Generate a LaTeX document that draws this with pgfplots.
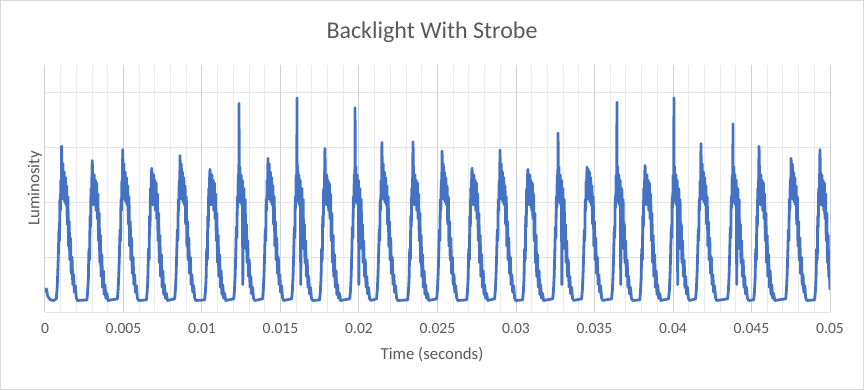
\documentclass[border=0pt]{standalone}
\usepackage{pgfplots}
\pgfplotsset{compat=1.18}
\usepackage{pgfplotstable}
\usepackage{fontspec}
\setmainfont{Carlito}
\definecolor{lineblue}{HTML}{4472C4}
\definecolor{txtgrey}{HTML}{595959}
\definecolor{gridmaj}{HTML}{D0D0D0}
\definecolor{gridmin}{HTML}{EBEBEB}
\definecolor{gridh}{HTML}{E3E3E3}

\pgfplotstableread{
t L
0.00 0.44
0.04 0.38
0.10 0.42
0.16 0.30
0.24 0.26
0.35 0.22
0.55 0.21
0.72 0.24
0.77 0.42
0.81 0.68
0.85 1.05
0.89 1.50
0.92 1.30
0.95 2.05
0.98 1.85
1.01 2.40
1.04 2.15
1.06 3.02
1.10 2.20
1.14 2.70
1.18 2.05
1.22 2.55
1.26 2.00
1.30 2.45
1.34 1.95
1.38 2.30
1.42 1.60
1.46 2.10
1.50 1.20
1.54 1.65
1.58 0.95
1.62 1.35
1.67 0.70
1.72 1.00
1.77 0.50
1.82 0.68
1.87 0.36
1.93 0.48
1.99 0.26
2.06 0.21
2.67 0.22
2.72 0.38
2.76 0.60
2.80 1.15
2.84 0.95
2.87 1.75
2.90 1.55
2.93 2.25
2.96 2.00
2.99 2.50
3.01 2.76
3.05 2.30
3.09 1.95
3.13 2.50
3.17 2.00
3.21 2.40
3.25 1.85
3.29 2.35
3.33 1.70
3.37 2.15
3.41 1.30
3.45 1.80
3.49 0.90
3.53 1.40
3.57 0.65
3.62 1.05
3.67 0.45
3.72 0.75
3.77 0.32
3.82 0.50
3.88 0.25
3.94 0.34
4.01 0.21
4.61 0.24
4.66 0.42
4.70 0.68
4.74 1.05
4.78 1.50
4.81 1.30
4.84 2.05
4.87 1.85
4.90 2.40
4.93 2.15
4.95 2.96
4.99 2.20
5.03 2.70
5.07 2.05
5.11 2.55
5.15 2.00
5.19 2.45
5.23 1.95
5.27 2.30
5.31 1.60
5.35 2.10
5.39 1.20
5.43 1.65
5.47 0.95
5.51 1.35
5.56 0.70
5.61 1.00
5.66 0.50
5.71 0.68
5.76 0.36
5.82 0.48
5.88 0.26
5.95 0.21
6.46 0.22
6.51 0.38
6.55 0.60
6.59 1.15
6.63 0.95
6.66 1.75
6.69 1.55
6.72 2.25
6.75 2.00
6.78 2.50
6.80 2.62
6.84 2.30
6.88 1.95
6.92 2.50
6.96 2.00
7.00 2.40
7.04 1.85
7.08 2.35
7.12 1.70
7.16 2.15
7.20 1.30
7.24 1.80
7.28 0.90
7.32 1.40
7.36 0.65
7.41 1.05
7.46 0.45
7.51 0.75
7.56 0.32
7.61 0.50
7.67 0.25
7.73 0.34
7.80 0.21
8.26 0.24
8.31 0.42
8.35 0.68
8.39 1.05
8.43 1.50
8.46 1.30
8.49 2.05
8.52 1.85
8.55 2.40
8.58 2.15
8.60 2.85
8.64 2.20
8.68 2.70
8.72 2.05
8.76 2.55
8.80 2.00
8.84 2.45
8.88 1.95
8.92 2.30
8.96 1.60
9.00 2.10
9.04 1.20
9.08 1.65
9.12 0.95
9.16 1.35
9.21 0.70
9.26 1.00
9.31 0.50
9.36 0.68
9.41 0.36
9.47 0.48
9.53 0.26
9.60 0.21
10.17 0.22
10.22 0.38
10.26 0.60
10.30 1.15
10.34 0.95
10.37 1.75
10.40 1.55
10.43 2.25
10.46 2.00
10.49 2.50
10.51 2.60
10.55 2.30
10.59 1.95
10.63 2.50
10.67 2.00
10.71 2.40
10.75 1.85
10.79 2.35
10.83 1.70
10.87 2.15
10.91 1.30
10.95 1.80
10.99 0.90
11.03 1.40
11.07 0.65
11.12 1.05
11.17 0.45
11.22 0.75
11.27 0.32
11.32 0.50
11.38 0.25
11.44 0.34
11.51 0.21
12.02 0.24
12.07 0.40
12.11 0.65
12.15 1.05
12.19 1.55
12.22 1.35
12.25 2.10
12.28 1.90
12.31 2.50
12.34 2.25
12.35 2.65
12.36 3.80
12.37 2.30
12.41 2.65
12.45 2.00
12.49 2.50
12.53 1.95
12.57 2.40
12.60 0.50
12.63 1.90
12.67 2.25
12.71 1.55
12.75 2.05
12.79 1.15
12.83 1.60
12.87 0.90
12.91 1.30
12.96 0.65
13.01 0.95
13.06 0.45
13.11 0.65
13.16 0.33
13.22 0.45
13.28 0.25
13.36 0.21
13.86 0.24
13.91 0.42
13.95 0.68
13.99 1.05
14.03 1.50
14.06 1.30
14.09 2.05
14.12 1.85
14.15 2.40
14.18 2.15
14.20 2.80
14.24 2.20
14.28 2.70
14.32 2.05
14.36 2.55
14.40 2.00
14.44 2.45
14.48 1.95
14.52 2.30
14.56 1.60
14.60 2.10
14.64 1.20
14.68 1.65
14.72 0.95
14.76 1.35
14.81 0.70
14.86 1.00
14.91 0.50
14.96 0.68
15.01 0.36
15.07 0.48
15.13 0.26
15.20 0.21
15.71 0.24
15.76 0.40
15.80 0.65
15.84 1.05
15.88 1.55
15.91 1.35
15.94 2.10
15.97 1.90
16.00 2.50
16.03 2.25
16.04 2.65
16.05 3.90
16.06 2.30
16.10 2.65
16.14 2.00
16.18 2.50
16.22 1.95
16.26 2.40
16.29 0.50
16.32 1.90
16.36 2.25
16.40 1.55
16.44 2.05
16.48 1.15
16.52 1.60
16.56 0.90
16.60 1.30
16.65 0.65
16.70 0.95
16.75 0.45
16.80 0.65
16.85 0.33
16.91 0.45
16.97 0.25
17.05 0.21
17.49 0.22
17.54 0.38
17.58 0.60
17.62 1.15
17.66 0.95
17.69 1.75
17.72 1.55
17.75 2.25
17.78 2.00
17.81 2.50
17.83 2.98
17.87 2.30
17.91 1.95
17.95 2.50
17.99 2.00
18.03 2.40
18.07 1.85
18.11 2.35
18.15 1.70
18.19 2.15
18.23 1.30
18.27 1.80
18.31 0.90
18.35 1.40
18.39 0.65
18.44 1.05
18.49 0.45
18.54 0.75
18.59 0.32
18.64 0.50
18.70 0.25
18.76 0.34
18.83 0.21
19.41 0.24
19.46 0.40
19.50 0.65
19.54 1.05
19.58 1.55
19.61 1.35
19.64 2.10
19.67 1.90
19.70 2.50
19.73 2.25
19.74 2.65
19.75 3.72
19.76 2.30
19.80 2.65
19.84 2.00
19.88 2.50
19.92 1.95
19.96 2.40
19.99 0.50
20.02 1.90
20.06 2.25
20.10 1.55
20.14 2.05
20.18 1.15
20.22 1.60
20.26 0.90
20.30 1.30
20.35 0.65
20.40 0.95
20.45 0.45
20.50 0.65
20.55 0.33
20.61 0.45
20.67 0.25
20.75 0.21
21.12 0.24
21.17 0.42
21.21 0.68
21.25 1.05
21.29 1.50
21.32 1.30
21.35 2.05
21.38 1.85
21.41 2.40
21.44 2.15
21.46 3.09
21.50 2.20
21.54 2.70
21.58 2.05
21.62 2.55
21.66 2.00
21.70 2.45
21.74 1.95
21.78 2.30
21.82 1.60
21.86 2.10
21.90 1.20
21.94 1.65
21.98 0.95
22.02 1.35
22.07 0.70
22.12 1.00
22.17 0.50
22.22 0.68
22.27 0.36
22.33 0.48
22.39 0.26
22.46 0.21
23.10 0.22
23.15 0.38
23.19 0.60
23.23 1.15
23.27 0.95
23.30 1.75
23.33 1.55
23.36 2.25
23.39 2.00
23.42 2.50
23.44 3.10
23.48 2.30
23.52 1.95
23.56 2.50
23.60 2.00
23.64 2.40
23.68 1.85
23.72 2.35
23.76 1.70
23.80 2.15
23.84 1.30
23.88 1.80
23.92 0.90
23.96 1.40
24.00 0.65
24.05 1.05
24.10 0.45
24.15 0.75
24.20 0.32
24.25 0.50
24.31 0.25
24.37 0.34
24.44 0.21
24.95 0.24
25.00 0.42
25.04 0.68
25.08 1.05
25.12 1.50
25.15 1.30
25.18 2.05
25.21 1.85
25.24 2.40
25.27 2.15
25.29 2.93
25.33 2.20
25.37 2.70
25.41 2.05
25.45 2.55
25.49 2.00
25.53 2.45
25.57 1.95
25.61 2.30
25.65 1.60
25.69 2.10
25.73 1.20
25.77 1.65
25.81 0.95
25.85 1.35
25.90 0.70
25.95 1.00
26.00 0.50
26.05 0.68
26.10 0.36
26.16 0.48
26.22 0.26
26.29 0.21
26.86 0.22
26.91 0.38
26.95 0.60
26.99 1.15
27.03 0.95
27.06 1.75
27.09 1.55
27.12 2.25
27.15 2.00
27.18 2.50
27.20 2.62
27.24 2.30
27.28 1.95
27.32 2.50
27.36 2.00
27.40 2.40
27.44 1.85
27.48 2.35
27.52 1.70
27.56 2.15
27.60 1.30
27.64 1.80
27.68 0.90
27.72 1.40
27.76 0.65
27.81 1.05
27.86 0.45
27.91 0.75
27.96 0.32
28.01 0.50
28.07 0.25
28.13 0.34
28.20 0.21
28.64 0.24
28.69 0.42
28.73 0.68
28.77 1.05
28.81 1.50
28.84 1.30
28.87 2.05
28.90 1.85
28.93 2.40
28.96 2.15
28.98 2.95
29.02 2.20
29.06 2.70
29.10 2.05
29.14 2.55
29.18 2.00
29.22 2.45
29.26 1.95
29.30 2.30
29.34 1.60
29.38 2.10
29.42 1.20
29.46 1.65
29.50 0.95
29.54 1.35
29.59 0.70
29.64 1.00
29.69 0.50
29.74 0.68
29.79 0.36
29.85 0.48
29.91 0.26
29.98 0.21
30.42 0.22
30.47 0.38
30.51 0.60
30.55 1.15
30.59 0.95
30.62 1.75
30.65 1.55
30.68 2.25
30.71 2.00
30.74 2.50
30.76 2.60
30.80 2.30
30.84 1.95
30.88 2.50
30.92 2.00
30.96 2.40
31.00 1.85
31.04 2.35
31.08 1.70
31.12 2.15
31.16 1.30
31.20 1.80
31.24 0.90
31.28 1.40
31.32 0.65
31.37 1.05
31.42 0.45
31.47 0.75
31.52 0.32
31.57 0.50
31.63 0.25
31.69 0.34
31.76 0.21
32.34 0.24
32.39 0.40
32.43 0.65
32.47 1.05
32.51 1.55
32.54 1.35
32.57 2.10
32.60 1.90
32.63 2.50
32.66 2.25
32.67 2.65
32.68 3.26
32.69 2.30
32.73 2.65
32.77 2.00
32.81 2.50
32.85 1.95
32.89 2.40
32.92 0.50
32.95 1.90
32.99 2.25
33.03 1.55
33.07 2.05
33.11 1.15
33.15 1.60
33.19 0.90
33.23 1.30
33.28 0.65
33.33 0.95
33.38 0.45
33.43 0.65
33.48 0.33
33.54 0.45
33.60 0.25
33.68 0.21
34.18 0.24
34.23 0.42
34.27 0.68
34.31 1.05
34.35 1.50
34.38 1.30
34.41 2.05
34.44 1.85
34.47 2.40
34.50 2.15
34.52 2.64
34.56 2.20
34.60 2.60
34.64 2.05
34.68 2.55
34.72 2.00
34.76 2.45
34.80 1.95
34.84 2.30
34.88 1.60
34.92 2.10
34.96 1.20
35.00 1.65
35.04 0.95
35.08 1.35
35.13 0.70
35.18 1.00
35.23 0.50
35.28 0.68
35.33 0.36
35.39 0.48
35.45 0.26
35.52 0.21
36.09 0.24
36.14 0.40
36.18 0.65
36.22 1.05
36.26 1.55
36.29 1.35
36.32 2.10
36.35 1.90
36.38 2.50
36.41 2.25
36.42 2.65
36.43 3.82
36.44 2.30
36.48 2.65
36.52 2.00
36.56 2.50
36.60 1.95
36.64 2.40
36.67 0.50
36.70 1.90
36.74 2.25
36.78 1.55
36.82 2.05
36.86 1.15
36.90 1.60
36.94 0.90
36.98 1.30
37.03 0.65
37.08 0.95
37.13 0.45
37.18 0.65
37.23 0.33
37.29 0.45
37.35 0.25
37.43 0.21
37.88 0.22
37.93 0.38
37.97 0.60
38.01 1.15
38.05 0.95
38.08 1.75
38.11 1.55
38.14 2.25
38.17 2.00
38.20 2.50
38.22 2.67
38.26 2.30
38.30 1.95
38.34 2.50
38.38 2.00
38.42 2.40
38.46 1.85
38.50 2.35
38.54 1.70
38.58 2.15
38.62 1.30
38.66 1.80
38.70 0.90
38.74 1.40
38.78 0.65
38.83 1.05
38.88 0.45
38.93 0.75
38.98 0.32
39.03 0.50
39.09 0.25
39.15 0.34
39.22 0.21
39.72 0.24
39.77 0.40
39.81 0.65
39.85 1.05
39.89 1.55
39.92 1.35
39.95 2.10
39.98 1.90
40.01 2.50
40.04 2.25
40.05 2.65
40.06 3.90
40.07 2.30
40.11 2.65
40.15 2.00
40.19 2.50
40.23 1.95
40.27 2.40
40.30 0.50
40.33 1.90
40.37 2.25
40.41 1.55
40.45 2.05
40.49 1.15
40.53 1.60
40.57 0.90
40.61 1.30
40.66 0.65
40.71 0.95
40.76 0.45
40.81 0.65
40.86 0.33
40.92 0.45
40.98 0.25
41.06 0.21
41.44 0.24
41.49 0.42
41.53 0.68
41.57 1.05
41.61 1.50
41.64 1.30
41.67 2.05
41.70 1.85
41.73 2.40
41.76 2.15
41.78 3.07
41.82 2.20
41.86 2.70
41.90 2.05
41.94 2.55
41.98 2.00
42.02 2.45
42.06 1.95
42.10 2.30
42.14 1.60
42.18 2.10
42.22 1.20
42.26 1.65
42.30 0.95
42.34 1.35
42.39 0.70
42.44 1.00
42.49 0.50
42.54 0.68
42.59 0.36
42.65 0.48
42.71 0.26
42.78 0.21
43.48 0.24
43.53 0.40
43.57 0.65
43.61 1.05
43.65 1.55
43.68 1.35
43.71 2.10
43.74 1.90
43.77 2.50
43.80 2.25
43.81 2.65
43.82 3.43
43.83 2.30
43.87 2.65
43.91 2.00
43.95 2.50
43.99 1.95
44.03 2.40
44.06 0.50
44.09 1.90
44.13 2.25
44.17 1.55
44.21 2.05
44.25 1.15
44.29 1.60
44.33 0.90
44.37 1.30
44.42 0.65
44.47 0.95
44.52 0.45
44.57 0.65
44.62 0.33
44.68 0.45
44.74 0.25
44.82 0.21
45.14 0.22
45.19 0.38
45.23 0.60
45.27 1.15
45.31 0.95
45.34 1.75
45.37 1.55
45.40 2.25
45.43 2.00
45.46 2.50
45.48 3.02
45.52 2.30
45.56 1.95
45.60 2.50
45.64 2.00
45.68 2.40
45.72 1.85
45.76 2.35
45.80 1.70
45.84 2.15
45.88 1.30
45.92 1.80
45.96 0.90
46.00 1.40
46.04 0.65
46.09 1.05
46.14 0.45
46.19 0.75
46.24 0.32
46.29 0.50
46.35 0.25
46.41 0.34
46.48 0.21
47.18 0.24
47.23 0.42
47.27 0.68
47.31 1.05
47.35 1.50
47.38 1.30
47.41 2.05
47.44 1.85
47.47 2.40
47.50 2.15
47.52 2.80
47.56 2.20
47.60 2.70
47.64 2.05
47.68 2.55
47.72 2.00
47.76 2.45
47.80 1.95
47.84 2.30
47.88 1.60
47.92 2.10
47.96 1.20
48.00 1.65
48.04 0.95
48.08 1.35
48.13 0.70
48.18 1.00
48.23 0.50
48.28 0.68
48.33 0.36
48.39 0.48
48.45 0.26
48.52 0.21
49.02 0.22
49.07 0.38
49.11 0.60
49.15 1.15
49.19 0.95
49.22 1.75
49.25 1.55
49.28 2.25
49.31 2.00
49.34 2.50
49.36 2.96
49.40 2.30
49.44 1.95
49.48 2.50
49.52 2.00
49.56 2.40
49.60 1.85
49.64 2.35
49.68 1.70
49.72 2.15
49.76 1.30
49.80 1.80
49.84 0.90
49.88 1.40
49.92 0.65
49.96 0.75
50.00 0.40
}\lumdata

\begin{document}
\begin{tikzpicture}
\begin{axis}[
  name=ax,
  at={(0pt,0pt)}, anchor=south west,
  scale only axis,
  width=588.75pt, height=185.25pt,
  xmin=0, xmax=50, ymin=0, ymax=4.5,
  xtick={0,5,10,15,20,25,30,35,40,45,50},
  xticklabels={0,0.005,0.01,0.015,0.02,0.025,0.03,0.035,0.04,0.045,0.05},
  minor xtick={1,2,3,4,6,7,8,9,11,12,13,14,16,17,18,19,21,22,23,24,26,27,28,29,31,32,33,34,36,37,38,39,41,42,43,44,46,47,48,49},
  ytick={1,2,3,4},
  yticklabels={},
  xmajorgrids, xminorgrids, ymajorgrids,
  major x grid style={draw=gridmaj, line width=0.75pt},
  minor x grid style={draw=gridmin, line width=0.75pt},
  major y grid style={draw=gridh, line width=0.75pt},
  major tick length=0pt, minor tick length=0pt,
  axis line style={draw=none},
  xticklabel style={font=\fontsize{11.7}{14}\selectfont, text=txtgrey, anchor=center, yshift=-12pt},
  title={Backlight With Strobe},
  title style={font=\fontsize{18}{22}\selectfont, text=txtgrey, at={(axis description cs:0.493,1.10)}, anchor=center},
  xlabel={Time (seconds)},
  xlabel style={font=\fontsize{12.6}{15}\selectfont, text=txtgrey, at={(axis description cs:0.493,-0.174)}, anchor=center},
  ylabel={Luminosity},
  ylabel style={font=\fontsize{12.6}{15}\selectfont, text=txtgrey, at={(axis description cs:-0.0127,0.5)}, anchor=center},
  clip=true,
]
\draw[draw=gridh, line width=0.75pt] (axis cs:0,0) -- (axis cs:50,0);
\addplot[color=lineblue, line width=2.1pt, line join=round, mark=none] table[x=t, y=L] {\lumdata};
\end{axis}
\pgfresetboundingbox
\useasboundingbox (-33.75pt,-58.5pt) rectangle (614.25pt,234pt);
\draw[draw=black!15, line width=0.75pt] (-33.3pt,-58.05pt) rectangle (613.8pt,233.55pt);
\end{tikzpicture}
\end{document}
